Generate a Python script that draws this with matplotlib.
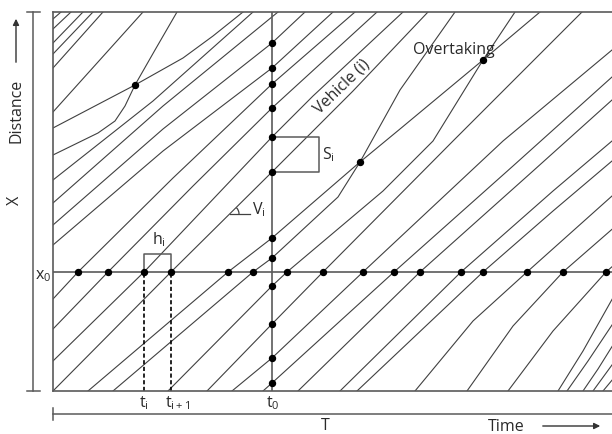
import matplotlib
matplotlib.use("Agg")
import matplotlib.pyplot as plt
from matplotlib.patches import Arc

plt.rcParams['font.family'] = ['Open Sans', 'DejaVu Sans']
plt.rcParams['mathtext.fontset'] = 'custom'
plt.rcParams['mathtext.rm'] = 'Open Sans'
plt.rcParams['mathtext.it'] = 'Open Sans'

# time / distance units (axis spans 0..559 by 0..379)
T_MAX = 559
D_MAX = 379
x0_level = 119
t0_time = 219

# trajectories (time list, distance list)
upper_left = [
    ([0, 8], [372, 379]),
    ([0, 18], [362, 379]),
    ([0, 30], [348, 379]),
    ([0, 40], [337, 379]),
    ([0, 50], [323, 379]),
    ([0, 90], [279, 379]),
    ([0, 100, 200], [211, 290, 379]),
    ([0, 110, 225], [188, 285, 379]),
    ([0, 110, 219, 252], [166, 262, 348, 379]),
    ([0, 110, 219, 280], [146, 240, 323, 379]),
]
# slow vehicle and the one overtaking it (upper left)
slow_left = ([0, 82, 130, 160, 190], [263, 306, 333, 355, 379])
fast_left = ([0, 45, 62, 72, 82, 102, 124], [236, 258, 270, 285, 306, 341, 379])

x0_group = [
    ([0, 25, 120, 219, 302], [92, 119, 213, 307, 379]),
    ([0, 55, 140, 219, 324], [62, 119, 205, 283, 379]),
    ([0, 91, 219, 260, 350], [30, 119, 254, 295, 379]),
    ([0, 118, 219, 300, 375], [0, 119, 219, 300, 379]),
    ([154, 219, 270, 400, 529], [0, 67, 119, 250, 379]),
    ([179, 219, 310, 450, 559], [0, 33, 119, 250, 341]),
    ([210, 219, 341, 460, 559], [0, 8, 119, 225, 314]),
    ([245, 367, 480, 559], [0, 119, 220, 291]),
    ([287, 408, 500, 559], [0, 119, 200, 250]),
    ([304, 430, 500, 559], [0, 119, 180, 230]),
    ([362, 420, 474, 559], [0, 70, 119, 195]),
    ([414, 460, 510, 580], [0, 65, 119, 180]),
    ([455, 500, 553, 600], [0, 60, 119, 160]),
]
# slow vehicle (i) and the two that pass it
slow_mid = ([35, 175, 219, 307, 347, 430, 487], [0, 119, 153, 229, 262, 331, 379])
fast_mid1 = ([60, 200, 219, 285, 307, 347, 402], [0, 119, 133, 194, 229, 301, 379])
fast_mid2 = ([115, 219, 234, 330, 380, 430, 462], [0, 105, 119, 200, 250, 331, 379])

bottom_right = [
    ([505, 530, 575], [0, 40, 120]),
    ([514, 535, 575], [0, 30, 90]),
    ([530, 545, 575], [0, 22, 70]),
    ([540, 575], [0, 48]),
    ([550, 575], [0, 30]),
]

# observation dots
x0_dot_t = [25, 55, 91, 118, 175, 200, 234, 270, 310, 341, 367, 408, 430, 474, 510, 553]
t0_dot_d = [348, 323, 307, 283, 254, 219, 153, 133, 105, 67, 33, 8]
cross_t = [82, 307, 430]
cross_d = [306, 229, 331]

# headway / spacing markers
t_i, t_i1 = 91, 118
s_low, s_high, s_right = 219, 254, 266

line_col = '#404040'
frame_col = '#5a5a5a'
txt_col = '#2a2a2a'
fs = 11.5

fig = plt.figure(figsize=(6.12, 4.34), dpi=100)
ax = fig.add_axes([53 / 612, 43 / 434, 559 / 612, 379 / 434])
ax.set_xlim(0, T_MAX)
ax.set_ylim(0, D_MAX)
ax.set_xticks([])
ax.set_yticks([])
for side in ['left', 'top', 'bottom']:
    ax.spines[side].set_color(frame_col)
    ax.spines[side].set_linewidth(1.2)
ax.spines['right'].set_visible(False)

all_lines = upper_left + [slow_left, fast_left] + x0_group + [slow_mid, fast_mid1, fast_mid2] + bottom_right
for tt, dd in all_lines:
    ax.plot(tt, dd, color=line_col, lw=0.8, solid_joinstyle='round')

# reference lines x0 and t0
ax.axhline(x0_level, color=frame_col, lw=1.2)
ax.axvline(t0_time, color=frame_col, lw=1.2)

# dots
ax.plot(x0_dot_t, [x0_level] * len(x0_dot_t), 'o', color='black', ms=4.3, zorder=5)
ax.plot([t0_time] * len(t0_dot_d), t0_dot_d, 'o', color='black', ms=4.3, zorder=5)
ax.plot(cross_t, cross_d, 'o', color='black', ms=4.3, zorder=5)

# headway h_i
ax.plot([t_i, t_i, t_i1, t_i1], [x0_level, 137, 137, x0_level], color=frame_col, lw=1.1)
ax.text((t_i + t_i1) / 2 + 1, 151, r'$\mathrm{h_i}$', ha='center', va='center', fontsize=fs, color=txt_col)
ax.plot([t_i, t_i], [0, x0_level], color='black', lw=1.2, ls=(0, (2.5, 1.5)))
ax.plot([t_i1, t_i1], [0, x0_level], color='black', lw=1.2, ls=(0, (2.5, 1.5)))

# spacing S_i
ax.plot([t0_time, s_right, s_right, t0_time], [s_high, s_high, s_low, s_low], color=frame_col, lw=1.1)
ax.text(s_right + 9, 236, r'$\mathrm{S_i}$', ha='center', va='center', fontsize=fs, color=txt_col)

# speed V_i
ax.plot([177, 197], [177, 177], color=line_col, lw=0.9)
ax.add_patch(Arc((177, 177), 18, 18, theta1=0, theta2=45, color=line_col, lw=0.9))
ax.text(206, 181, r'$\mathrm{V_i}$', ha='center', va='center', fontsize=fs, color=txt_col)

ax.text(289, 304, 'Vehicle (i)', rotation=44, ha='center', va='center', fontsize=fs, color=txt_col)
ax.text(360, 341, 'Overtaking', ha='left', va='center', fontsize=fs, color=txt_col)

# labels under and left of the box
ax.text(t_i, -12, r'$\mathrm{t_i}$', ha='center', va='center', fontsize=fs, color=txt_col, clip_on=False)
ax.text(t_i1 + 7, -12, r'$\mathrm{t_{i+1}}$', ha='center', va='center', fontsize=fs, color=txt_col, clip_on=False)
ax.text(t0_time + 1, -12, r'$\mathrm{t_0}$', ha='center', va='center', fontsize=fs, color=txt_col, clip_on=False)
ax.text(-10, x0_level - 4, r'$\mathrm{x_0}$', ha='center', va='center', fontsize=fs, color=txt_col, clip_on=False)

# distance axis at the left
ax.plot([-20, -20], [0, D_MAX], color=frame_col, lw=1.1, clip_on=False)
ax.plot([-26, -13], [0, 0], color=frame_col, lw=1.1, clip_on=False)
ax.plot([-26, -13], [D_MAX, D_MAX], color=frame_col, lw=1.1, clip_on=False)
ax.text(-37, 280, 'Distance', rotation=90, ha='center', va='center', fontsize=fs, color=txt_col, clip_on=False)
ax.annotate('', xy=(-37, 375), xytext=(-37, 326), annotation_clip=False,
            arrowprops=dict(arrowstyle='-|>', color='#333333', lw=1.0, mutation_scale=9))
ax.text(-38, 191, 'X', rotation=90, ha='center', va='center', fontsize=fs, color=txt_col, clip_on=False)

# time axis at the bottom
ax.plot([0, T_MAX], [-23, -23], color=frame_col, lw=1.1, clip_on=False)
ax.plot([0, 0], [-17, -29], color=frame_col, lw=1.1, clip_on=False)
ax.text(272, -35, 'T', ha='center', va='center', fontsize=fs, color=txt_col, clip_on=False)
ax.text(453, -36, 'Time', ha='center', va='center', fontsize=fs, color=txt_col, clip_on=False)
ax.annotate('', xy=(550, -35), xytext=(487, -35), annotation_clip=False,
            arrowprops=dict(arrowstyle='-|>', color='#333333', lw=1.0, mutation_scale=9))

fig.savefig('out.png', dpi=100, facecolor='white')
